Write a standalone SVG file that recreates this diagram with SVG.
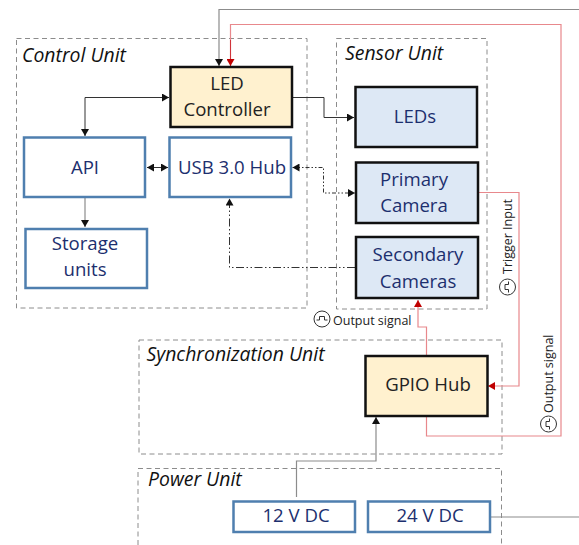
<svg xmlns="http://www.w3.org/2000/svg" width="579" height="545" viewBox="0 0 579 545">
<style>
text{font-family:"Open Sans","Noto Sans","Liberation Sans",sans-serif;text-anchor:middle}
.unit{fill:none;stroke:#8c8c8c;stroke-width:1;stroke-dasharray:5 3.5}
.ut{font-style:italic;font-size:19.400px;fill:#111;text-anchor:start}
.blue{fill:#fff;stroke:#4f7faf;stroke-width:2.5}
.lb{fill:#dde8f5;stroke:#111;stroke-width:2.5}
.yl{fill:#fff1cf;stroke:#111;stroke-width:2.5}
.tb{font-size:18.6px;fill:#1c2f6e}
.tk{font-size:18.6px;fill:#222}
.c{fill:none;stroke:#333;stroke-width:1}
.g{fill:none;stroke:#8c8c8c;stroke-width:1.2}
.r{fill:none;stroke:#e8888c;stroke-width:1.2}
.sm{font-size:12.500px;fill:#222;text-anchor:start}
.ic{fill:none;stroke:#333;stroke-width:1}
</style>
<defs>
<marker id="ak" markerUnits="userSpaceOnUse" markerWidth="8" markerHeight="8" refX="7" refY="4" orient="auto-start-reverse"><path d="M0 0L7 4L0 8Z" fill="#111"/></marker>
<marker id="ar" markerUnits="userSpaceOnUse" markerWidth="8" markerHeight="8" refX="7" refY="4" orient="auto"><path d="M0 0L7 4L0 8Z" fill="#c00000"/></marker>
<g id="pulse"><circle r="8" class="ic"/><path d="M-5.500 1H-2.500V-2.500H2.500V1H5.500" class="ic"/></g>
</defs>
<g id="units">
<g id="control-unit"><rect class="unit" x="16.500" y="38.500" width="290.500" height="269.500"/><text class="ut" x="22" y="62">Control Unit</text></g>
<g id="sensor-unit"><rect class="unit" x="336.500" y="38.500" width="150.500" height="270.500"/><text class="ut" x="345" y="60">Sensor Unit</text></g>
<g id="sync-unit"><rect class="unit" x="139" y="340" width="363" height="114"/><text class="ut" x="146.500" y="361">Synchronization Unit</text></g>
<g id="power-unit"><path class="unit" d="M138 545V468.500H501.500V545"/><text class="ut" x="148" y="486">Power Unit</text></g>
</g>
<g id="connectors">
<path class="g" d="M579 9.500H219V66" marker-end="url(#ak)"/>
<path class="r" d="M230.500 66V24.500H561V436H426.500V417"/>
<path d="M230.500 40V66" fill="none" stroke="#d0343a" stroke-width="1" marker-end="url(#ar)"/>
<path class="r" d="M479 192.500H519V386H488" marker-end="url(#ar)"/>
<path class="r" d="M426.500 355V327H418V300" marker-end="url(#ar)"/>
<path class="c" d="M169 97.500H85V136" marker-start="url(#ak)" marker-end="url(#ak)"/>
<path class="c" d="M147 167.500H168" marker-start="url(#ak)" marker-end="url(#ak)"/>
<path class="c" d="M292.500 97.500H324V117.500H354" marker-end="url(#ak)"/>
<path class="g" d="M85 198V227" marker-end="url(#ak)"/>
<path class="c" stroke-dasharray="4 2 1.500 2 1.500 2" stroke-width="1.300" d="M292.500 167.500H323.500V193H355" marker-start="url(#ak)" marker-end="url(#ak)"/>
<path class="c" stroke-dasharray="8 2.500 1.500 2.500 1.500 2.500" stroke-width="1.400" d="M355 267.500H229.500V198.500" marker-end="url(#ak)"/>
<path class="g" d="M296.500 497V461H376V417" marker-end="url(#ak)"/>
<path class="g" d="M491 517H579"/>
</g>
<g id="led-controller"><rect class="yl" x="170.500" y="67" width="121.500" height="60"/><text class="tk" x="227" y="90">LED</text><text class="tk" x="227" y="116">Controller</text></g>
<g id="api"><rect class="blue" x="24" y="137.500" width="121" height="59.500"/><text class="tb" x="85" y="174">API</text></g>
<g id="usb-hub"><rect class="blue" x="169.500" y="137.500" width="121.500" height="59.500"/><text class="tb" x="232" y="174">USB 3.0 Hub</text></g>
<g id="storage-units"><rect class="blue" x="25.500" y="229" width="121.500" height="59"/><text class="tb" x="85" y="250">Storage</text><text class="tb" x="85" y="276">units</text></g>
<g id="leds"><rect class="lb" x="355.500" y="87" width="121.500" height="60"/><text class="tb" x="415" y="123">LEDs</text></g>
<g id="primary-camera"><rect class="lb" x="356" y="162.500" width="122" height="60.500"/><text class="tb" x="414" y="186">Primary</text><text class="tb" x="414" y="212">Camera</text></g>
<g id="secondary-cameras"><rect class="lb" x="356" y="237" width="122" height="61"/><text class="tb" x="418" y="261">Secondary</text><text class="tb" x="418" y="288">Cameras</text></g>
<g id="gpio-hub"><rect class="yl" x="365.500" y="356" width="122" height="60"/><text class="tk" x="428" y="391">GPIO Hub</text></g>
<g id="dc-12v"><rect class="blue" x="233.500" y="501.500" width="121.500" height="30.500"/><text class="tb" x="296" y="522">12 V DC</text></g>
<g id="dc-24v"><rect class="blue" x="368" y="501.500" width="122" height="30.500"/><text class="tb" x="430" y="522">24 V DC</text></g>
<g id="labels">
<use href="#pulse" x="322" y="319"/><text class="sm" x="333" y="325">Output signal</text>
<use href="#pulse" transform="translate(507.500 287) rotate(-90)"/><text class="sm" transform="translate(511.500 274) rotate(-90)">Trigger Input</text>
<use href="#pulse" transform="translate(548.500 424) rotate(-90)"/><text class="sm" transform="translate(552.500 413) rotate(-90)">Output signal</text>
</g>
</svg>
